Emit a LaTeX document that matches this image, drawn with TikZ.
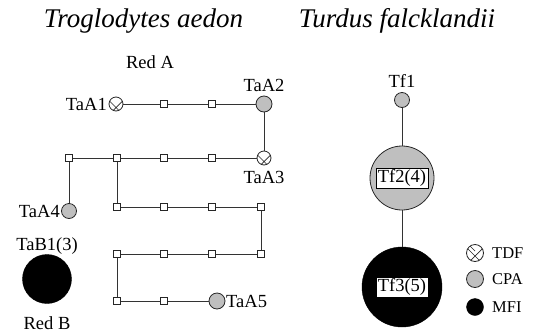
\documentclass[tikz,border=0pt]{standalone}
\usepackage{fontspec}
\setmainfont{Liberation Serif}
\begin{document}
\begin{tikzpicture}[x=1pt,y=-1pt,
  every node/.style={font=\fontsize{18.5}{21}\selectfont},
  hap/.style={draw=black!85, line width=0.8pt, fill=white, minimum size=7.5pt, inner sep=0pt},
  cpa/.style={circle, draw=black!85, line width=0.8pt, fill=gray!50, inner sep=0pt},
  mfi/.style={circle, draw=black, fill=black, inner sep=0pt},
  tdf/.style={circle, draw=black!85, line width=0.8pt, fill=white, inner sep=0pt, minimum size=14pt,
    path picture={\draw[black!85, line width=0.7pt]
      ([shift={(-12,-8.5)}]path picture bounding box.center) -- ([shift={(12,15.5)}]path picture bounding box.center)
      ([shift={(12,-8.5)}]path picture bounding box.center) -- ([shift={(-12,15.5)}]path picture bounding box.center);}},
  tdfkey/.style={circle, draw=black!85, line width=0.8pt, fill=white, inner sep=0pt, minimum size=17pt,
    path picture={\draw[black!85, line width=0.7pt]
      ([shift={(-14,-11)}]path picture bounding box.center) -- ([shift={(14,17)}]path picture bounding box.center)
      ([shift={(14,-11)}]path picture bounding box.center) -- ([shift={(-14,17)}]path picture bounding box.center)
      ([shift={(-14,-2)}]path picture bounding box.center) -- ([shift={(0,-16)}]path picture bounding box.center)
      ([shift={(-14,-16)}]path picture bounding box.center) -- ([shift={(0,-2)}]path picture bounding box.center);}},
  link/.style={draw=black!80, line width=0.8pt},
  lbl/.style={inner sep=0pt},
  boxlbl/.style={draw=black, line width=0.5pt, fill=white, inner xsep=2pt, inner ysep=1.5pt},
  keytext/.style={inner sep=0pt, anchor=west, font=\fontsize{16.5}{19}\selectfont},
  title/.style={inner sep=0pt, anchor=base, font=\fontsize{27}{30}\selectfont\itshape}
]
\useasboundingbox (0,0) rectangle (535,335);

% titles
\node[title] (t1) at (143.5,27) {Troglodytes aedon};
\node[title] (t2) at (397,27) {Turdus falcklandii};

% network A
\node[lbl] (redA) at (150,62) {Red A};
\node[tdf] (a1) at (116,104) {};
\node[lbl, anchor=east] (la1) at (107,104) {TaA1};
\node[hap] (s1) at (164,104) {};
\node[hap] (s2) at (212,104) {};
\node[cpa, minimum size=16pt] (a2) at (264,104) {};
\node[lbl] (la2) at (264,85) {TaA2};
\node[tdf] (a3) at (264,158) {};
\node[lbl] (la3) at (264,177) {TaA3};
\node[hap] (s3) at (212,158) {};
\node[hap] (s4) at (164,158) {};
\node[hap] (s5) at (117,158) {};
\node[hap] (s6) at (69,158) {};
\node[cpa, minimum size=15pt] (a4) at (69,211) {};
\node[lbl, anchor=east] (la4) at (60,211) {TaA4};
\node[hap] (s7) at (117,207) {};
\node[hap] (s8) at (164,207) {};
\node[hap] (s9) at (212,207) {};
\node[hap] (s10) at (261,207) {};
\node[hap] (s11) at (261,254) {};
\node[hap] (s12) at (212,254) {};
\node[hap] (s13) at (164,254) {};
\node[hap] (s14) at (117,254) {};
\node[hap] (s15) at (117,301) {};
\node[hap] (s16) at (164,301) {};
\node[cpa, minimum size=16pt] (a5) at (217,301) {};
\node[lbl, anchor=west] (la5) at (226,301) {TaA5};

\draw[link] (a1) -- (s1) -- (s2) -- (a2) -- (a3) -- (s3) -- (s4) -- (s5) -- (s6) -- (a4);
\draw[link] (s5) -- (s7) -- (s8) -- (s9) -- (s10) -- (s11) -- (s12) -- (s13) -- (s14) -- (s15) -- (s16) -- (a5);

% network B
\node[lbl] (lb1) at (47,246) {TaB1(3)};
\node[mfi, minimum size=49pt] (b1) at (47,279) {};
\node[lbl] (redB) at (47,323) {Red B};

% Turdus falcklandii
\node[lbl] (lf1) at (402,81) {Tf1};
\node[cpa, minimum size=15pt] (f1) at (402,100) {};
\node[cpa, minimum size=64pt] (f2) at (402,178) {};
\node[boxlbl] (lf2) at (402,178) {Tf2(4)};
\node[mfi, minimum size=80pt] (f3) at (402,287) {};
\node[boxlbl] (lf3) at (402,287) {Tf3(5)};
\draw[link] (f1) -- (f2) -- (f3);

% key
\node[tdfkey] (k1) at (475,253) {};
\node[keytext] (kt1) at (492,253) {TDF};
\node[cpa, minimum size=17pt] (k2) at (475,279) {};
\node[keytext] (kt2) at (492,279) {CPA};
\node[mfi, minimum size=17pt] (k3) at (475,307) {};
\node[keytext] (kt3) at (492,307) {MFI};
\end{tikzpicture}
\end{document}
